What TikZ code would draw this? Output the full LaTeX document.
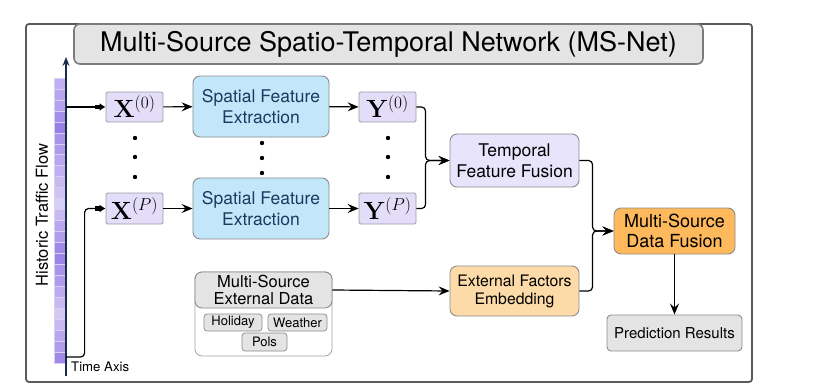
\documentclass[tikz,border=0pt]{standalone}
\usepackage[no-math]{fontspec}
\setmainfont{TeX Gyre Heros}
\usetikzlibrary{arrows.meta}

\definecolor{framegray}{HTML}{5A5A5A}
\definecolor{boxgray}{HTML}{8C8C8C}
\definecolor{lightgray}{HTML}{E4E4E4}
\definecolor{lavender}{HTML}{E3DDF9}
\definecolor{lavenderlt}{HTML}{E7E4FB}
\definecolor{skyblue}{HTML}{C2E7FB}
\definecolor{navytext}{HTML}{1B3A5E}
\definecolor{peach}{HTML}{FDDBA8}
\definecolor{amber}{HTML}{FDB95B}
\definecolor{axisnavy}{HTML}{1C2B4B}
\definecolor{barlo}{HTML}{DDD7F8}
\definecolor{barhi}{HTML}{9177E2}

\tikzset{
  block/.style={draw=boxgray, line width=0.9pt, rounded corners=7pt, align=center,
    inner sep=0pt, font=\fontsize{17.5}{21}\selectfont},
  tensor/.style={draw=boxgray!80!lavender, line width=0.8pt, fill=lavender, rounded corners=1.5pt,
    inner sep=0pt, minimum width=57pt, font=\fontsize{25}{25}\selectfont},
  chip/.style={draw=boxgray, line width=0.7pt, fill=lightgray, rounded corners=3pt,
    inner sep=0pt, font=\fontsize{13}{13}\selectfont},
  flow/.style={line width=1.2pt, rounded corners=4pt, -{Stealth[length=11pt,width=9pt,inset=4pt]}},
  feed/.style={line width=1.2pt, rounded corners=4pt, -{Rectangle[length=5pt,width=4.5pt]Latex[length=6pt,width=8pt]}},
}

\begin{document}
\begin{tikzpicture}[x=1pt, y=-1pt]
  \useasboundingbox (0,0) rectangle (833,388);

  % outer frame and title
  \draw[framegray, line width=1.8pt, rounded corners=3pt] (26,24) rectangle (752,382);
  \node[draw=framegray!80, line width=1.6pt, fill=lightgray, rounded corners=6pt,
    minimum width=629pt, minimum height=40pt, inner sep=0pt,
    font=\fontsize{27}{27}\selectfont] (title) at (388.5,44) {Multi-Source Spatio-Temporal Network (MS-Net)};

  % traffic flow bar along the time axis
  \foreach \s [count=\i] in {40,50,55,75,90,70,60,50,40,30,20,8,30,50,60,80,85,70,60,45,30,15,30,50,60,80}
    \draw[fill=barhi!\s!barlo, draw=barhi!35!white, line width=0.5pt]
      (54,{78+(\i-1)*10.96}) rectangle ++(12,10.96);
  \coordinate (tbot) at (66,376);
  \coordinate (ttop) at (66,57);
  \draw[axisnavy, line width=1.1pt, -{Stealth[length=9pt,width=7pt,inset=3pt]}] (tbot) -- (ttop);
  \node[rotate=90, font=\fontsize{16.5}{16.5}\selectfont] (flowlbl) at (42,215) {Historic Traffic Flow};
  \node[anchor=west, inner sep=0pt, font=\fontsize{13.2}{13.2}\selectfont] (timelbl) at (71,367) {Time Axis};
  \coordinate (t0) at (66,107);
  \coordinate (tp) at (66,357);

  % spatial branches
  \node[tensor, minimum height=30pt] (x0) at (134.5,107) {$\mathbf{X}^{(0)}$};
  \node[tensor, minimum height=31pt] (xp) at (134.5,208.5) {$\mathbf{X}^{(P)}$};
  \node[block, fill=skyblue, text=navytext, minimum width=136pt, minimum height=61pt] (sfe0) at (261,106.5) {Spatial Feature\\Extraction};
  \node[block, fill=skyblue, text=navytext, minimum width=136pt, minimum height=61pt] (sfep) at (261,208.5) {Spatial Feature\\Extraction};
  \node[tensor, minimum height=30pt] (y0) at (387.5,107) {$\mathbf{Y}^{(0)}$};
  \node[tensor, minimum height=31pt] (yp) at (387.5,208.5) {$\mathbf{Y}^{(P)}$};

  \foreach \x/\y in {135/138, 135/157, 135/177, 262/143, 262/158, 262/173, 388/138, 388/157, 388/177}
    \fill (\x,\y) circle (2.2pt);

  % fusion stages
  \node[block, fill=lavenderlt, minimum width=129pt, minimum height=53pt] (tff) at (514.5,160.5) {Temporal\\Feature Fusion};
  \node[block, fill=peach, minimum width=129pt, minimum height=50pt,
    font=\fontsize{15.8}{18}\selectfont] (efe) at (514.5,291) {External Factors\\Embedding};
  \node[block, fill=amber, minimum width=121pt, minimum height=46pt,
    font=\fontsize{18}{20}\selectfont] (msdf) at (674.5,231) {Multi-Source\\Data Fusion};
  \node[block, fill=lightgray, rounded corners=4pt, minimum width=135pt, minimum height=36pt,
    font=\fontsize{15}{15}\selectfont] (pred) at (674.5,333) {Prediction Results};

  % external data sources
  \node[draw=boxgray!80, line width=0.8pt, fill=white, rounded corners=7pt, minimum width=137pt,
    minimum height=84pt, inner sep=0pt] (msedbox) at (263.5,314) {};
  \node[block, fill=lightgray, minimum width=137pt, minimum height=36pt,
    font=\fontsize{16.5}{17}\selectfont] (msed) at (263.5,290) {Multi-Source\\External Data};
  \node[chip, minimum width=58pt, minimum height=17pt] (holiday) at (233,322.5) {Holiday};
  \node[chip, minimum width=59pt, minimum height=17pt] (weather) at (297.5,322.5) {Weather};
  \node[chip, minimum width=45pt, minimum height=18pt] (pols) at (264.5,342) {Pols};

  % connectors
  \draw[feed] (t0) -- (x0.west);
  \draw[feed] (tp) -| ([xshift=-21pt]xp.west) -- (xp.west);
  \draw[flow] (x0) -- (sfe0);
  \draw[flow] (xp) -- (sfep);
  \draw[flow] (sfe0) -- (y0);
  \draw[flow] (sfep) -- (yp);
  \draw[flow] (y0.east) -| ([xshift=-24pt]tff.west) -- (tff.west);
  \draw[flow] (yp.east) -| ([xshift=-24pt]tff.west) -- (tff.west);
  \draw[flow] (tff.east) -| ([xshift=-21pt]msdf.west) -- (msdf.west);
  \draw[flow] (efe.east) -| ([xshift=-21pt]msdf.west) -- (msdf.west);
  \draw[flow] (msed.east) -- (efe.west);
  \draw[flow] (msdf) -- (pred);
\end{tikzpicture}
\end{document}
